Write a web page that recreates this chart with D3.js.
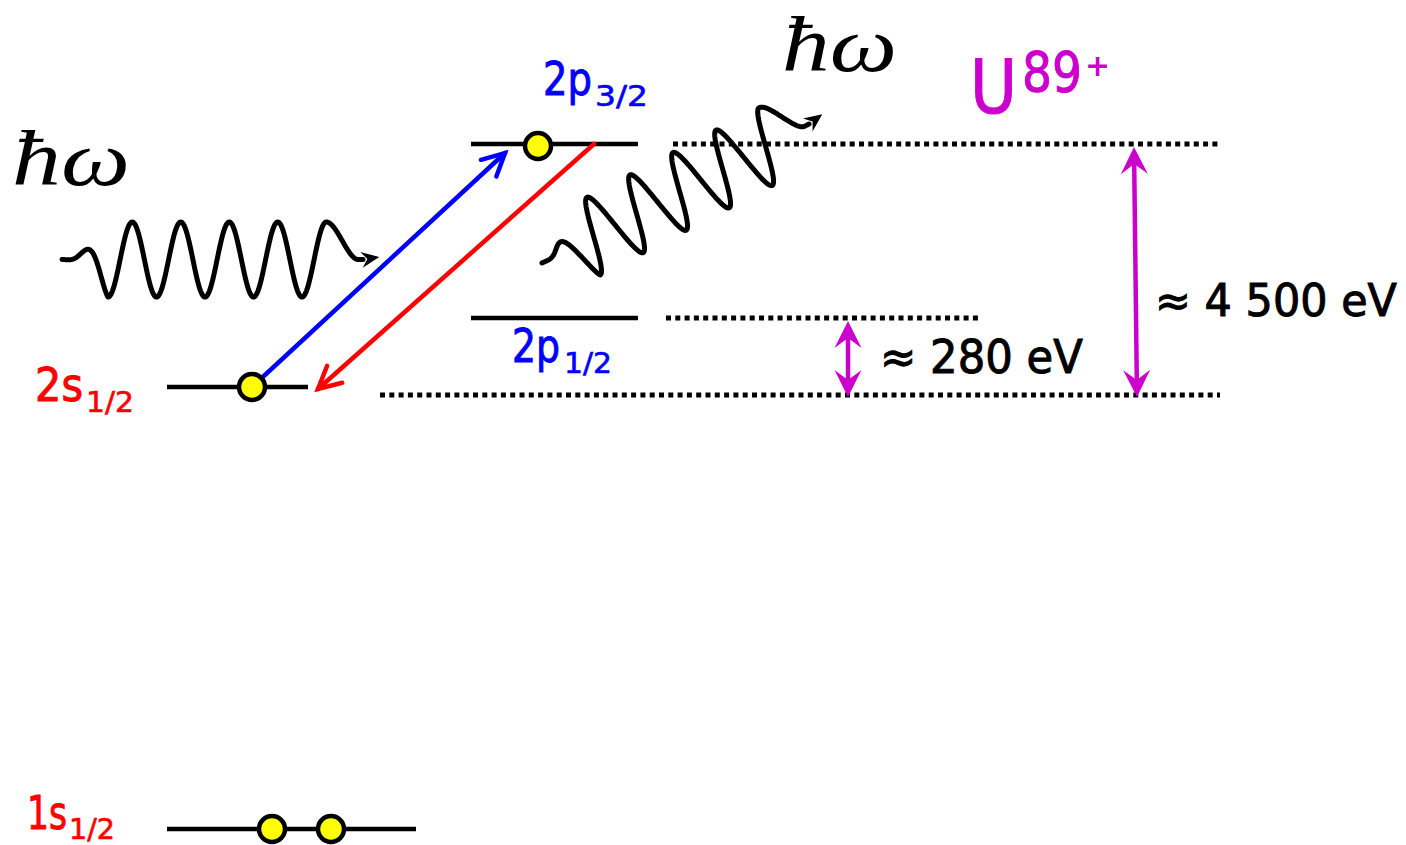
<!DOCTYPE html>
<html>
<head>
<meta charset="utf-8">
<script src="https://cdn.jsdelivr.net/npm/d3@7"></script>
<style>
  html, body { margin: 0; background: #fff; }
  svg { display: block; }
</style>
</head>
<body>
<script>
// Lithium-like uranium: 2s -> 2p3/2 excitation and decay (schematic level diagram)
const levels     = ["1s1/2", "2s1/2", "2p1/2", "2p3/2"];
const levelTerm  = ["1s", "2s", "2p", "2p"];
const levelJ     = ["1/2", "1/2", "1/2", "3/2"];
const occupancy  = [2, 1, 0, 1];

const gapFrom    = ["2s1/2", "2s1/2"];
const gapTo      = ["2p1/2", "2p3/2"];
const gapEnergy  = [280, 4500];          // eV

const ionSymbol  = "U";
const ionCharge  = ["89", "+"];
const photonText = "ħω";

const W = 1406, H = 845;
const svg = d3.select("body").append("svg").attr("width", W).attr("height", H);

const BLACK = "#000", RED = "#ff0000", BLUE = "#0000ff", MAG = "#cc00cc", YEL = "#ffff00";
const SANS = "'Comic Sans MS', 'DejaVu Sans', sans-serif";
const SERIF = "'Liberation Serif', 'DejaVu Serif', serif";

// schematic placement of the levels
const yLevel = d3.scaleOrdinal().domain(levels).range([829, 387, 318, 144]);
const xSpan = d3.scaleOrdinal().domain(levels).range([[167, 416], [167, 308], [471, 638], [471, 638]]);
const electronSlots = d3.scaleOrdinal().domain(levels).range([[272, 331], [252], [], [538]]);
// dotted continuation of each level towards the energy scale: [x0, x1, dy]
const guide = d3.scaleOrdinal().domain(["2s1/2", "2p1/2", "2p3/2"])
  .range([[380, 1220, 8], [666, 978, 0], [673, 1220, 0]]);
const gapX = d3.scaleOrdinal().domain(gapTo).range([[848, 848], [1137, 1134]]);

const gLevels = svg.append("g");
const gWaves = svg.append("g");
const gArrows = svg.append("g");
const gDots = svg.append("g");
const gText = svg.append("g");

// dotted guide lines
levels.filter(l => guide.domain().includes(l)).forEach(l => {
  const [x0, x1, dy] = guide(l);
  gLevels.append("line")
    .attr("x1", x0).attr("x2", x1)
    .attr("y1", yLevel(l) + dy).attr("y2", yLevel(l) + dy)
    .attr("stroke", BLACK).attr("stroke-width", 5)
    .attr("stroke-dasharray", "5 4.3");
});

// level lines
levels.forEach(l => {
  const [x0, x1] = xSpan(l);
  gLevels.append("line")
    .attr("x1", x0).attr("x2", x1)
    .attr("y1", yLevel(l)).attr("y2", yLevel(l))
    .attr("stroke", BLACK).attr("stroke-width", 4.6);
});

// filled, notched arrow head with its tip at (x, y) pointing along angle a (radians)
function head(g, x, y, a, len, half, notch, color) {
  const c = Math.cos(a), s = Math.sin(a);
  const pt = (u, v) => [x + u * c - v * s, y + u * s + v * c];
  const pts = [pt(0, 0), pt(-len, -half), pt(-notch, 0), pt(-len, half)];
  g.append("path").attr("d", "M" + pts.map(p => p.join(",")).join("L") + "Z").attr("fill", color);
}

// photon: sine train with a soft start and a curled tail, rotated by angle
function photon(x0, y0, angDeg) {
  const A = 37.5, P = 48.5, uT = 46;
  const uLast = uT + 4.5 * P, T = 32, uEnd = uLast + T + 5;
  const pts = [];
  for (let u = 0; u <= uEnd; u += 0.5) {
    let v;
    if (u < uT) v = A * Math.pow(u / uT, 2) * Math.cos(2 * Math.PI * (u - uT) / P);
    else if (u <= uLast) v = A * Math.cos(2 * Math.PI * (u - uT) / P);
    else if (u <= uLast + T) {
      const t = (u - uLast) / T;
      v = -A * (1 - (3 * t * t - 2 * t * t * t));
    } else v = 0;
    pts.push([u, v]);
  }
  const a = angDeg * Math.PI / 180, c = Math.cos(a), s = Math.sin(a);
  const toXY = ([u, v]) => [x0 + u * c - v * s, y0 + u * s + v * c];
  gWaves.append("path")
    .attr("d", d3.line()(pts.map(toXY)))
    .attr("fill", "none").attr("stroke", BLACK)
    .attr("stroke-width", 5).attr("stroke-linecap", "round").attr("stroke-linejoin", "round");
  const [tx, ty] = toXY([uEnd + 16, -2.5]);
  head(gWaves, tx, ty, a - 9 * Math.PI / 180, 18, 8, 12, BLACK);
}
photon(62, 259.5, 0);
photon(542, 263, -27.5);

// excitation (blue) and decay (red) arrows with open heads
function openArrow(x1, y1, x2, y2, color) {
  gArrows.append("line").attr("x1", x1).attr("y1", y1).attr("x2", x2).attr("y2", y2)
    .attr("stroke", color).attr("stroke-width", 4.5).attr("stroke-linecap", "round");
  const a = Math.atan2(y2 - y1, x2 - x1), L = 25, h = 27 * Math.PI / 180;
  const p1 = [x2 - L * Math.cos(a - h), y2 - L * Math.sin(a - h)];
  const p2 = [x2 - L * Math.cos(a + h), y2 - L * Math.sin(a + h)];
  gArrows.append("path").attr("d", `M${p1}L${x2},${y2}L${p2}`)
    .attr("fill", "none").attr("stroke", color).attr("stroke-width", 4.5)
    .attr("stroke-linecap", "round").attr("stroke-linejoin", "miter");
}
openArrow(electronSlots("2s1/2")[0], yLevel("2s1/2"), 505, 153, BLUE);
openArrow(594, yLevel("2p3/2"), 318, 389, RED);

// electrons
levels.forEach((l, i) => {
  electronSlots(l).slice(0, occupancy[i]).forEach(x => {
    gDots.append("circle").attr("cx", x).attr("cy", yLevel(l) + (l === "2p3/2" ? 2 : 0)).attr("r", 13)
      .attr("fill", YEL).attr("stroke", BLACK).attr("stroke-width", 4.5);
  });
});

// splitting arrows (double headed)
gapEnergy.forEach((e, i) => {
  const [xb, xt] = gapX(gapTo[i]);
  const yb = yLevel(gapFrom[i]) + guide(gapFrom[i])[2] + 2;
  const yt = yLevel(gapTo[i]) + 3;
  const a = Math.atan2(yt - yb, xt - xb);
  const nx = Math.cos(a) * 17, ny = Math.sin(a) * 17;
  gArrows.append("line")
    .attr("x1", xb + nx).attr("y1", yb + ny).attr("x2", xt - nx).attr("y2", yt - ny)
    .attr("stroke", MAG).attr("stroke-width", 4.5);
  head(gArrows, xt, yt, a, 27, 13.5, 17, MAG);
  head(gArrows, xb, yb, a + Math.PI, 27, 13.5, 17, MAG);
});

// a text run squeezed horizontally to a given width
function fitText(s, x, y, size, w, color, family, opts = {}) {
  const t = gText.append("text").attr("x", 0).attr("y", 0).text(s)
    .attr("font-size", size).attr("fill", color).attr("font-family", family);
  if (opts.italic) t.attr("font-style", "italic");
  if (opts.bold) t.attr("font-weight", "bold");
  if (family === SANS && !opts.bold) t.attr("stroke", color).attr("stroke-width", size > 40 ? 1.0 : 0.6);
  const natural = t.node().getComputedTextLength();
  const sx = w ? w / natural : 1;
  t.attr("transform", `translate(${x},${y}) scale(${sx},1)`);
  return t;
}

// level labels: term + subscript j  [x, baseline, x of subscript, term width, subscript width, subscript drop]
const labelPos = d3.scaleOrdinal().domain(levels)
  .range([[27, 829, 69, 40, 46, 10], [35, 401, 86, 48, 48, 11], [512, 362, 564, 48, 48, 11], [543, 95, 595, 49, 53, 11]]);
const labelColor = d3.scaleOrdinal().domain(levels).range([RED, RED, BLUE, BLUE]);
levels.forEach((l, i) => {
  const [x, y, xs, w, ws, dy] = labelPos(l);
  fitText(levelTerm[i], x, y, 46, w, labelColor(l), SANS);
  fitText(levelJ[i], xs, y + dy, 28, ws, labelColor(l), SANS);
});

// splitting labels
const fmt = v => "≈ " + d3.format(",")(v).replace(/,/g, " ") + " eV";
const gapLabelPos = d3.scaleOrdinal().domain(gapTo).range([[880, 373, 46, 203], [1155, 316, 44, 242]]);
gapEnergy.forEach((e, i) => {
  const [x, y, size, w] = gapLabelPos(gapTo[i]);
  fitText(fmt(e), x, y, size, w, BLACK, SANS);
});

// ion
fitText(ionSymbol, 970, 113, 75, 47, MAG, SANS);
fitText(ionCharge[0], 1022, 91, 56, 60, MAG, SANS);
fitText(ionCharge[1], 1085, 76, 30, null, MAG, SANS, { bold: true });

// photon labels
fitText(photonText, 12, 185, 78, 118, BLACK, SERIF, { italic: true });
fitText(photonText, 782, 71, 78, 115, BLACK, SERIF, { italic: true });
</script>
</body>
</html>
